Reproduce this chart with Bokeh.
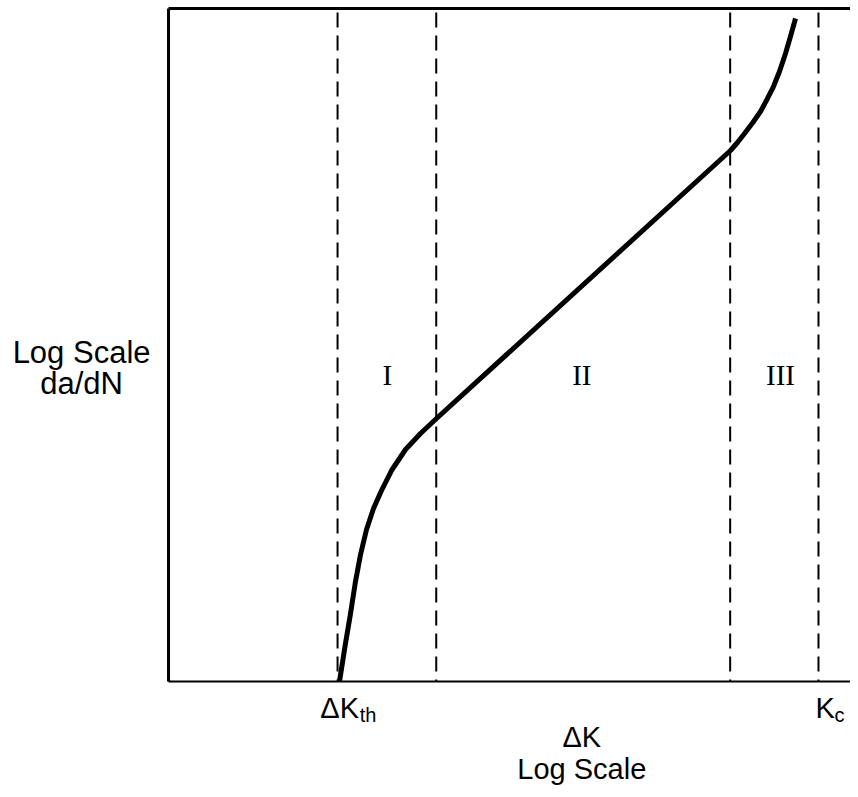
from bokeh.plotting import figure
from bokeh.models import ColumnDataSource
from bokeh.core.properties import value
from bokeh.embed import file_html
from bokeh.resources import INLINE

# Region boundaries (log ΔK): ΔK_th, I/II, II/III, K_c
boundary_x = [2.45, 3.88, 8.14, 9.42]

# Crack growth curve (log ΔK, log da/dN), arbitrary units
curve_x = [2.478, 2.565, 2.638, 2.710, 2.783, 2.870, 2.971, 3.087, 3.232, 3.435, 3.652, 3.884,
           8.145, 8.246, 8.348, 8.464, 8.580, 8.681, 8.768, 8.855, 8.942, 9.014, 9.087]
curve_y = [0.000, 0.565, 1.010, 1.486, 1.887, 2.259, 2.571, 2.838, 3.135, 3.447, 3.685, 3.908,
           7.890, 8.009, 8.143, 8.299, 8.470, 8.663, 8.841, 9.064, 9.331, 9.584, 9.851]

region_names = ["I", "II", "III"]
region_x = [3.17, 5.99, 8.87]
region_y = [4.56, 4.56, 4.56]

tick_x = [2.48, 9.42]
tick_main = ["ΔK", "K"]
tick_sub = ["th", "c"]

x_title = ["ΔK", "Log Scale"]
y_title = ["Log Scale", "da/dN"]

XMIN, XMAX = -2.435, 9.884
YMIN, YMAX = -1.605, 10.119

p = figure(width=850, height=789, x_range=(XMIN, XMAX), y_range=(YMIN, YMAX),
           output_backend="svg", toolbar_location=None,
           min_border_left=0, min_border_right=0, min_border_top=0, min_border_bottom=0)
p.axis.visible = False
p.grid.visible = False
p.outline_line_color = None
p.background_fill_color = "white"
p.border_fill_color = "white"

# frame lines (left + top, bottom axis line)
p.segment(x0=[0, 0], y0=[0, 10], x1=[0, 10], y1=[10, 10], line_color="black", line_width=3)
p.segment(x0=[0], y0=[0], x1=[10], y1=[0], line_color="black", line_width=2)

# dashed boundaries
bsrc = ColumnDataSource(dict(x=boundary_x, y0=[10] * len(boundary_x), y1=[0] * len(boundary_x)))
p.segment(x0="x", y0="y0", x1="x", y1="y1", source=bsrc, line_color="black",
          line_width=2, line_dash="15 8", line_dash_offset=19)

# curve
p.line(curve_x, curve_y, line_color="black", line_width=5, line_join="round", line_cap="butt")

# region labels
rsrc = ColumnDataSource(dict(x=region_x, y=region_y, t=region_names))
p.text(x="x", y="y", text="t", source=rsrc, text_font=value("Liberation Serif"),
       text_font_size="29px", text_align="center", text_baseline="middle", text_color="black")

sans = value("Liberation Sans")

# tick labels with subscripts
p.text(x=[tick_x[0]], y=[-0.39], text=[tick_main[0]], text_font=sans, text_font_size="29px",
       text_align="center", text_baseline="alphabetic", text_color="black")
p.text(x=[tick_x[0]], y=[-0.495], x_offset=20, text=[tick_sub[0]], text_font=sans,
       text_font_size="20px", text_align="left", text_baseline="alphabetic", text_color="black")
p.text(x=[tick_x[1]], y=[-0.39], x_offset=-3, text=[tick_main[1]], text_font=sans,
       text_font_size="29px", text_align="left", text_baseline="alphabetic", text_color="black")
p.text(x=[tick_x[1]], y=[-0.495], x_offset=16, text=[tick_sub[1]], text_font=sans,
       text_font_size="20px", text_align="left", text_baseline="alphabetic", text_color="black")

# axis titles
p.text(x=[5.99, 5.99], y=[-0.83, -1.30], text=x_title, text_font=sans, text_font_size="29px",
       text_align="center", text_baseline="alphabetic", text_color="black")
p.text(x=[-1.26, -1.26], y=[4.89, 4.43], text=y_title, text_font=sans, text_font_size="31px",
       text_align="center", text_baseline="alphabetic", text_color="black")

open("out.html", "w").write(file_html(p, INLINE))
